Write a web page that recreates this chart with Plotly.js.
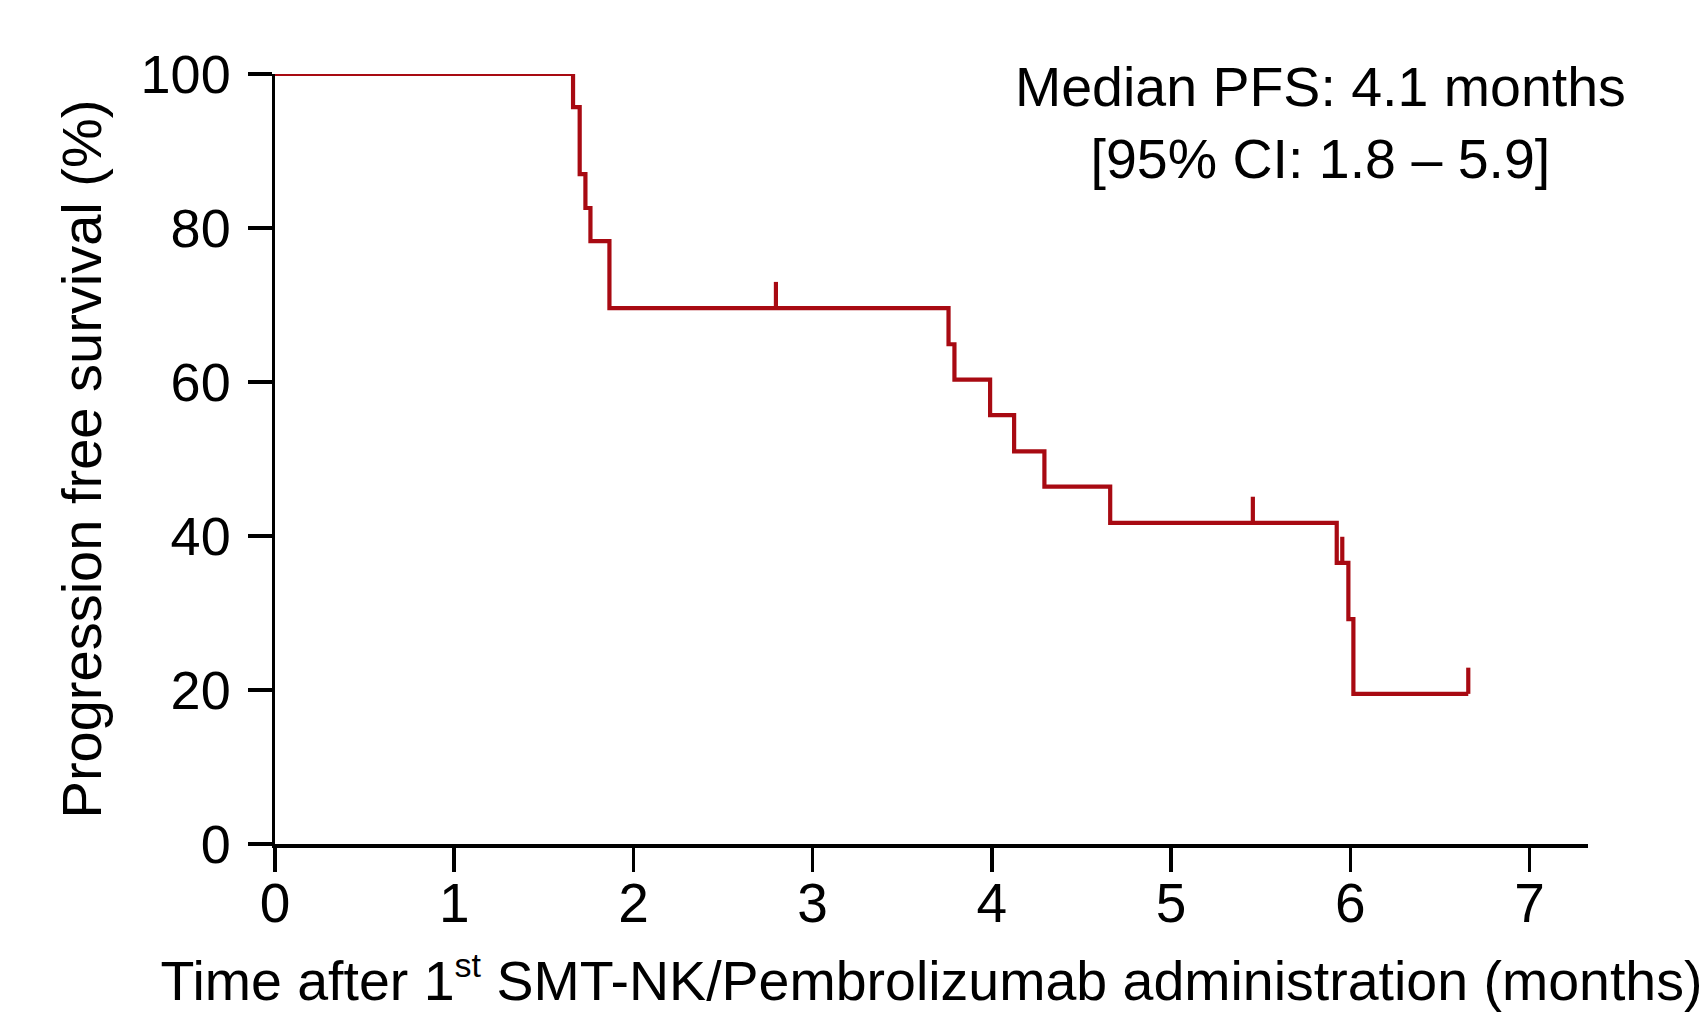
<!DOCTYPE html>
<html>
<head>
<meta charset="utf-8">
<script src="https://cdn.plot.ly/plotly-3.0.1.min.js"></script>
<style>html,body{margin:0;padding:0;background:#fff;}#chart{width:1708px;height:1012px;}</style>
</head>
<body>
<div id="chart"></div>
<script>
// Kaplan-Meier step curve (time in months, survival in %)
const kmTime = [0, 1.663, 1.700, 1.732, 1.760, 1.866, 3.758, 3.791, 3.990, 4.124, 4.293, 4.660, 5.924, 5.989, 6.017, 6.658];
const kmSurv = [100, 95.7, 87.0, 82.6, 78.3, 69.6, 64.9, 60.3, 55.7, 51.0, 46.4, 41.7, 36.5, 29.2, 19.5, 19.5];
// Censored observations
const censorTime = [2.795, 5.456, 5.955, 6.658];
const censorSurv = [69.6, 41.7, 36.5, 19.5];
// Axis ticks
const xTicks = [0, 1, 2, 3, 4, 5, 6, 7];
const yTicks = [0, 20, 40, 60, 80, 100];

const lineColor = '#A80A12';
const tickH = 3.4; // censor tick height (style)
const cx = [], cy = [];
censorTime.forEach((t, i) => { cx.push(t, t, null); cy.push(censorSurv[i], censorSurv[i] + tickH, null); });

const font = 'Liberation Sans, Arial, sans-serif';

const traces = [
  {x: kmTime, y: kmSurv, mode: 'lines', line: {shape: 'hv', color: lineColor, width: 4.2}, cliponaxis: false, showlegend: false, hoverinfo: 'x+y'},
  {x: cx, y: cy, mode: 'lines', line: {color: lineColor, width: 4.2}, cliponaxis: false, showlegend: false, hoverinfo: 'skip'}
];

const layout = {
  width: 1708, height: 1012,
  paper_bgcolor: '#fff', plot_bgcolor: '#fff',
  margin: {l: 274.5, r: 120, t: 74, b: 168, autoexpand: false},
  font: {family: font, color: '#000'},
  showlegend: false,
  xaxis: {
    range: [0, 7.326], tickvals: xTicks, ticktext: xTicks.map(String),
    showgrid: false, zeroline: false, showline: true, linecolor: '#000', linewidth: 3.5,
    ticks: 'outside', ticklen: 24, tickwidth: 3.5, tickcolor: '#000',
    tickfont: {size: 55, family: font, color: '#000'}, ticklabelstandoff: -16,
    title: {text: 'Time after 1<sup><span style="font-size:34px">st</span></sup> SMT-NK/Pembrolizumab administration (months)', font: {size: 55.5, family: font, color: '#000'}, standoff: 68},
    automargin: false, fixedrange: true
  },
  yaxis: {
    range: [0, 100], tickvals: yTicks, ticktext: yTicks.map(String),
    showgrid: false, zeroline: false, showline: true, linecolor: '#000', linewidth: 3.5,
    ticks: 'outside', ticklen: 24, tickwidth: 3.5, tickcolor: '#000',
    tickfont: {size: 54, family: font, color: '#000'}, ticklabelstandoff: 6,
    title: {text: 'Progression free survival (%)', font: {size: 56, family: font, color: '#000'}, standoff: 22},
    automargin: false, fixedrange: true
  },
  annotations: [{
    xref: 'paper', yref: 'paper', x: 0.796, y: 0.937, xanchor: 'center', yanchor: 'middle',
    text: 'Median PFS: 4.1 months<br>[95% CI: 1.8 \u2013 5.9]', showarrow: false, align: 'center',
    font: {size: 55.5, family: font, color: '#000'}
  }]
};

Plotly.newPlot('chart', traces, layout, {displayModeBar: false, staticPlot: true});
</script>
</body>
</html>
